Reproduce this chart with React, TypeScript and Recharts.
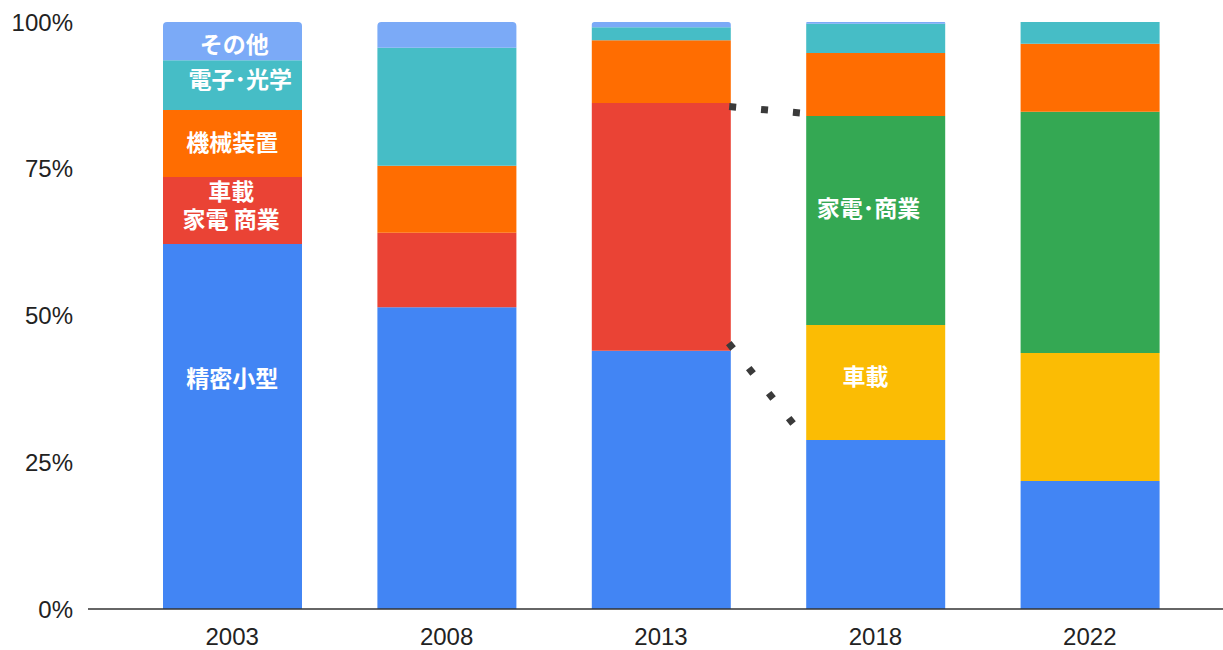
import React from 'react';
import { BarChart, Bar, XAxis, YAxis, ReferenceDot, ReferenceLine } from 'recharts';

const years = ['2003', '2008', '2013', '2018', '2022'];
const precision = [62.2, 51.4, 44.0, 28.8, 21.8];
const autoHomeCombined = [11.4, 12.7, 42.2, 0, 0];
const automotive = [0, 0, 0, 19.6, 21.8];
const homeCommercial = [0, 0, 0, 35.6, 41.1];
const machinery = [11.4, 11.4, 10.7, 10.7, 11.6];
const electronics = [8.5, 20.1, 2.2, 5.0, 3.7];
const others = [6.5, 4.4, 0.9, 0.3, 0];
const yTicks = [0, 25, 50, 75, 100];

const inBarLabels = [
  { year: '2003', value: 96.4, lines: ['その他'], dx: 2 },
  { year: '2003', value: 90.5, lines: ['電子･光学'], dx: 8 },
  { year: '2003', value: 79.7, lines: ['機械装置'], dx: 0 },
  { year: '2003', value: 69.0, lines: ['車載', '家電 商業'], dx: -1 },
  { year: '2003', value: 39.5, lines: ['精密小型'], dx: 0 },
  { year: '2018', value: 68.5, lines: ['家電･商業'], dx: -7 },
  { year: '2018', value: 39.9, lines: ['車載'], dx: -10 },
];

const connectors = [
  { x1: 2.818, y1: 85.6, x2: 3.149, y2: 84.5 },
  { x1: 2.816, y1: 45.3, x2: 3.118, y2: 31.5 },
];

const data = years.map((year, i) => ({
  year,
  pos: i + 0.5,
  precision: precision[i],
  autoHomeCombined: autoHomeCombined[i],
  automotive: automotive[i],
  homeCommercial: homeCommercial[i],
  machinery: machinery[i],
  electronics: electronics[i],
  others: others[i],
}));

const tickStyle = { fontFamily: '"Liberation Sans", Arial, sans-serif', fontSize: 24, fill: '#222' };
const LINE_H = 28;

export default function App() {
  return (
    <div style={{ position: 'absolute', left: 0, top: 0, width: 1223, height: 650, background: '#fff' }}>
      <BarChart width={1223} height={650} data={data} margin={{ top: 22, right: 0, bottom: 0, left: 0 }} barSize={139}>
        <XAxis
          dataKey="year"
          padding={{ left: 37, right: 26 }}
          tickLine={false}
          tickSize={0}
          tickMargin={19}
          height={41}
          axisLine={{ stroke: '#333', strokeWidth: 1.5 }}
          tick={tickStyle}
        />
        <XAxis xAxisId="n" type="number" dataKey="pos" domain={[0, 5]} hide padding={{ left: 37, right: 26 }} allowDataOverflow />
        <YAxis
          domain={[0, 100]}
          ticks={yTicks}
          tickFormatter={(v: number) => `${v}%`}
          axisLine={false}
          tickLine={false}
          tickSize={0}
          tickMargin={15}
          width={88}
          tick={tickStyle}
        />
        <Bar dataKey="precision" stackId="a" fill="#4285F4" isAnimationActive={false} />
        <Bar dataKey="autoHomeCombined" stackId="a" fill="#EA4335" isAnimationActive={false} />
        <Bar dataKey="automotive" stackId="a" fill="#FBBC04" isAnimationActive={false} />
        <Bar dataKey="homeCommercial" stackId="a" fill="#34A853" isAnimationActive={false} />
        <Bar dataKey="machinery" stackId="a" fill="#FF6D01" isAnimationActive={false} />
        <Bar dataKey="electronics" stackId="a" fill="#46BDC6" isAnimationActive={false} />
        <Bar dataKey="others" stackId="a" fill="#7BAAF7" radius={[4, 4, 0, 0]} isAnimationActive={false} />
        {connectors.map((c, i) => (
          <ReferenceLine
            key={`c${i}`}
            xAxisId="n"
            segment={[{ x: c.x1, y: c.y1 }, { x: c.x2, y: c.y2 }]}
            stroke="#3a3a3a"
            strokeWidth={7}
            strokeDasharray="7 25"
            ifOverflow="visible"
          />
        ))}
        {inBarLabels.map((l, i) => (
          <ReferenceDot
            key={`l${i}`}
            x={l.year}
            y={l.value}
            r={1}
            ifOverflow="visible"
            shape={(p: any) => {
              const y0 = p.cy - ((l.lines.length - 1) * LINE_H) / 2;
              return (
                <text
                  x={p.cx + l.dx}
                  y={y0}
                  textAnchor="middle"
                  dominantBaseline="central"
                  fill="#fff"
                  fontWeight="bold"
                  fontSize={23}
                  fontFamily='"Noto Sans CJK JP", "Noto Sans", sans-serif'
                >
                  {l.lines.map((t, j) => (
                    <tspan key={j} x={p.cx + l.dx} dy={j === 0 ? 0 : LINE_H}>
                      {t}
                    </tspan>
                  ))}
                </text>
              );
            }}
          />
        ))}
      </BarChart>
    </div>
  );
}
